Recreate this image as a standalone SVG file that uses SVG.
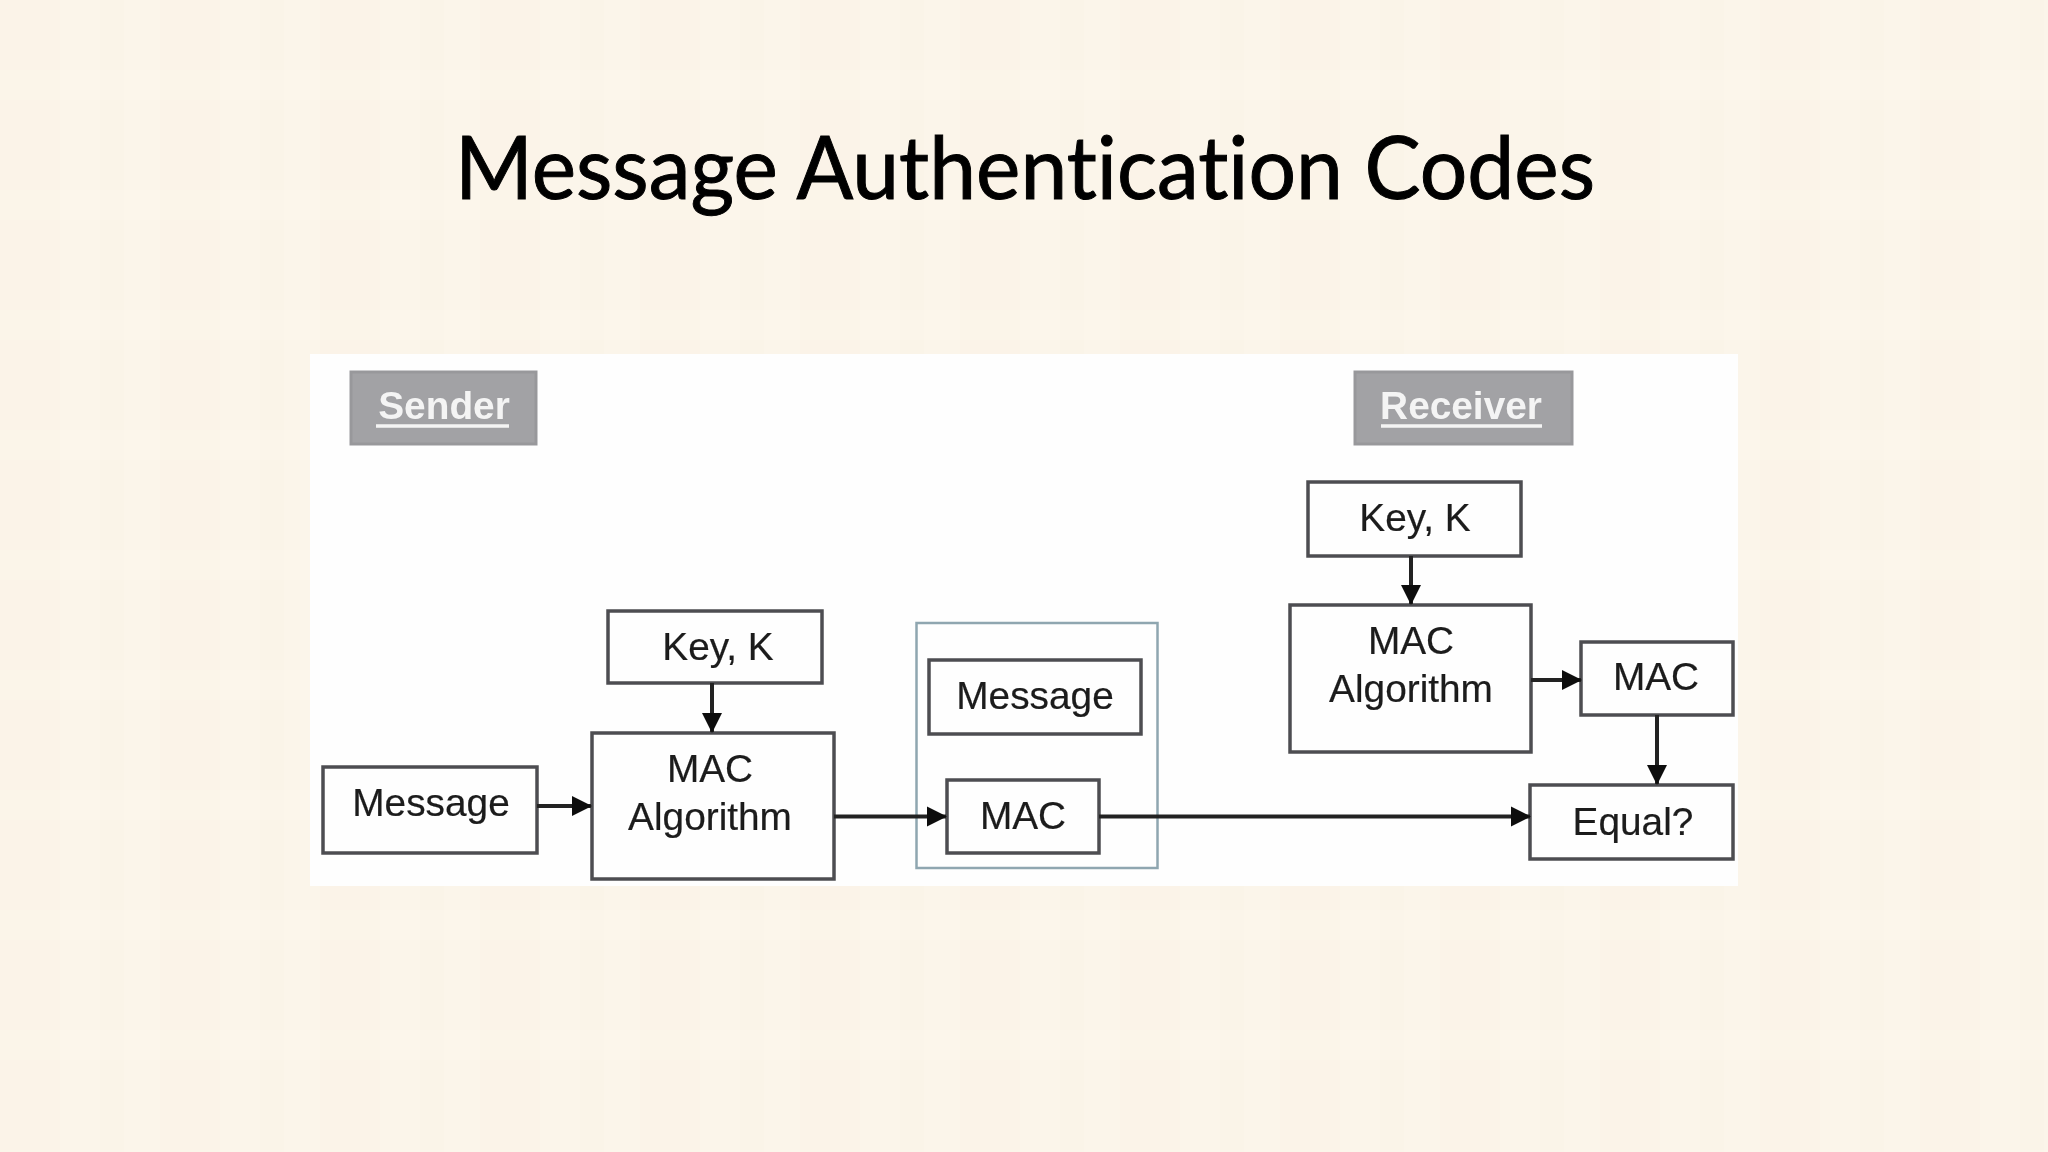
<svg xmlns="http://www.w3.org/2000/svg" width="2048" height="1152" viewBox="0 0 2048 1152">
<style>
.box{fill:#fefefe;stroke:#4e4e51;stroke-width:3.5}
.tag{fill:#a2a2a5;stroke:#98989b;stroke-width:3}
.t{font-family:"Liberation Sans",Arial,sans-serif;font-size:38.8px;fill:#1a1a1a;stroke:#1a1a1a;stroke-width:.2;text-anchor:middle}
.h{font-family:"Liberation Sans",Arial,sans-serif;font-size:38.8px;font-weight:bold;fill:#f4f4f4;text-anchor:middle}
.u{stroke:#f4f4f4;stroke-width:3.5}
.c{stroke:#222;stroke-width:4;fill:none;marker-end:url(#a)}
</style>
<defs>
<marker id="a" markerUnits="userSpaceOnUse" markerWidth="22" markerHeight="22" refX="19" refY="11" orient="auto"><path d="M0 1L20 11L0 21Z" fill="#111"/></marker>
<pattern id="tex" width="160" height="120" patternUnits="userSpaceOnUse">
<rect x="0" y="0" width="60" height="120" fill="#f8efe0" opacity=".14"/>
<rect x="100" y="0" width="24" height="120" fill="#f8efe0" opacity=".1"/>
<rect x="0" y="70" width="160" height="30" fill="#fffaf2" opacity=".15"/>
</pattern>
<filter id="soft" x="0" y="0" width="1" height="1"><feGaussianBlur stdDeviation="0.6"/></filter>
</defs>
<rect width="2048" height="1152" fill="#fbf5ea"/>
<rect width="2048" height="1152" fill="url(#tex)"/>
<text id="title" x="1025" y="199" font-family="Lato,'Open Sans',sans-serif" font-size="88px" fill="#000" stroke="#000" stroke-width="1" text-anchor="middle" textLength="1140" lengthAdjust="spacingAndGlyphs" style="font-variant-ligatures:none">Message Authentication Codes</text>
<g filter="url(#soft)">
<rect id="panel" x="310" y="354" width="1428" height="532" fill="#fefefe"/>
<g id="sender"><rect class="tag" x="351" y="372" width="185" height="72"/><text class="h" x="444" y="419">Sender</text><line class="u" x1="376" y1="426" x2="509" y2="426"/></g>
<g id="receiver"><rect class="tag" x="1355" y="372" width="217" height="72"/><text class="h" x="1461" y="419">Receiver</text><line class="u" x1="1381" y1="426" x2="1542" y2="426"/></g>
<g id="transmitted"><rect x="916.5" y="623" width="241" height="245" fill="none" stroke="#8fa6b0" stroke-width="2.5"/></g>
<g id="message-s"><rect class="box" x="323" y="767" width="214" height="86"/><text class="t" x="431" y="816">Message</text></g>
<g id="key-s"><rect class="box" x="608" y="611" width="214" height="72"/><text class="t" x="718" y="660">Key, K</text></g>
<g id="alg-s"><rect class="box" x="592" y="733" width="242" height="146"/><text class="t" x="710" y="782">MAC</text><text class="t" x="710" y="830">Algorithm</text></g>
<g id="message-m"><rect class="box" x="929" y="660" width="212" height="74"/><text class="t" x="1035" y="709">Message</text></g>
<g id="mac-m"><rect class="box" x="947" y="780" width="152" height="73"/><text class="t" x="1023" y="829">MAC</text></g>
<g id="key-r"><rect class="box" x="1308" y="482" width="213" height="74"/><text class="t" x="1415" y="531">Key, K</text></g>
<g id="alg-r"><rect class="box" x="1290" y="605" width="241" height="147"/><text class="t" x="1411" y="654">MAC</text><text class="t" x="1411" y="702">Algorithm</text></g>
<g id="mac-r"><rect class="box" x="1581" y="642" width="152" height="73"/><text class="t" x="1656" y="690">MAC</text></g>
<g id="equal"><rect class="box" x="1530" y="785" width="203" height="74"/><text class="t" x="1633" y="835">Equal?</text></g>
<g id="connectors">
<line class="c" x1="537" y1="806" x2="591" y2="806"/>
<line class="c" x1="712" y1="683" x2="712" y2="732"/>
<line class="c" x1="834" y1="816.5" x2="946" y2="816.5"/>
<line class="c" x1="1099" y1="816.5" x2="1530" y2="816.5"/>
<line class="c" x1="1411" y1="556" x2="1411" y2="604"/>
<line class="c" x1="1531" y1="680" x2="1581" y2="680"/>
<line class="c" x1="1657" y1="715" x2="1657" y2="784"/>
</g>
</g>
</svg>
